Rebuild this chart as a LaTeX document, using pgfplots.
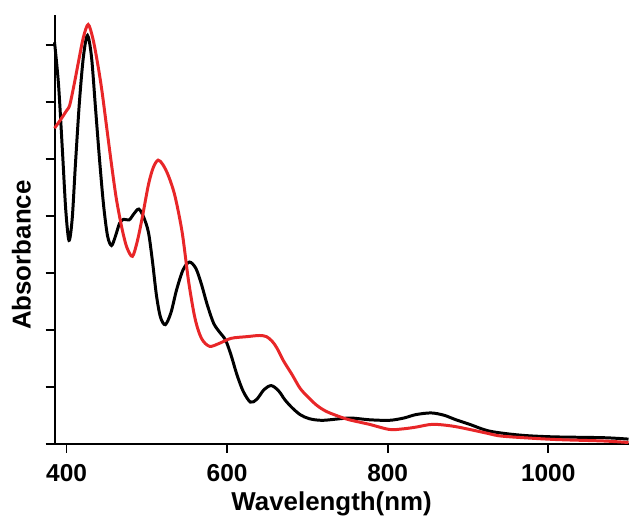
\documentclass[border=0pt]{standalone}
\usepackage{pgfplots}
\pgfplotsset{compat=1.18}
\usepackage{fontspec}
\setmainfont{Liberation Sans}
\definecolor{specred}{RGB}{232,38,40}

\begin{document}
\begin{tikzpicture}[font=\bfseries]
  \begin{axis}[
      scale only axis,
      width=288.5pt, height=215.5pt,
      xmin=385, xmax=1100,
      ymin=0, ymax=7.53,
      axis x line=bottom, axis y line=left,
      axis line style={line width=1pt, -},
      x axis line style={shorten <=-4.5pt},
      xtick={400,600,800,1000},
      ytick={1,2,3,4,5,6,7},
      yticklabels={},
      tick align=outside,
      major tick length=4.5pt,
      tick style={line width=0.9pt, black},
      xticklabel style={font=\fontsize{12.3}{14}\selectfont\bfseries, yshift=-2.5pt},
      /pgf/number format/assume math mode=true,
      /pgf/number format/1000 sep={},
      xlabel={Wavelength(nm)},
      ylabel={Absorbance},
      label style={font=\fontsize{13}{15}\selectfont\bfseries},
      xlabel style={inner sep=0pt, yshift=-1.5pt, xshift=-5pt},
      ylabel style={inner sep=6pt, yshift=-5.7pt, xshift=-13pt},
      clip=false,
    ]
    % black spectrum
    \addplot[black, line width=1.5pt, smooth] coordinates {
      (385,7.05) (390,6.3) (395,5.1) (399,4.1) (403,3.57) (407,3.95)
      (411,4.9) (416,6.0) (421,6.8) (426,7.17) (431,6.8) (436,5.9)
      (441,5.0) (446,4.2) (451,3.65) (456,3.48) (461,3.65) (466,3.87)
      (471,3.94) (478,3.93) (484,4.04) (490,4.12) (496,3.98) (502,3.71)
      (507,3.2) (512,2.6) (517,2.22) (523,2.09) (530,2.3) (537,2.7)
      (545,3.05) (553,3.19) (561,3.08) (568,2.8) (575,2.45) (583,2.12)
      (590,1.97) (598,1.82) (605,1.55) (612,1.22) (620,0.92) (629,0.73)
      (637,0.78) (646,0.95) (655,1.02) (664,0.93) (672,0.77) (681,0.63)
      (691,0.51) (702,0.44) (719,0.41) (752,0.45) (777,0.42) (802,0.41)
      (820,0.45) (835,0.51) (854,0.54) (870,0.5) (885,0.42) (902,0.34)
      (927,0.22) (965,0.15) (1006,0.12) (1069,0.105) (1100,0.08)
    };
    % red spectrum
    \addplot[specred, line width=1.5pt, smooth] coordinates {
      (385,5.54) (393,5.7) (400,5.85) (404,5.95) (410,6.35) (415,6.72)
      (421,7.14) (427,7.36) (433,7.1) (439,6.65) (444,6.2) (450,5.55)
      (456,4.9) (462,4.3) (469,3.78) (475,3.45) (482,3.29) (488,3.55)
      (494,3.95) (502,4.55) (508,4.85) (514,4.98) (520,4.9) (527,4.7)
      (535,4.35) (544,3.71) (552,2.85) (560,2.2) (568,1.85) (578,1.71)
      (590,1.76) (605,1.85) (625,1.88) (640,1.90) (649,1.88) (656,1.80)
      (662,1.68) (670,1.46) (681,1.21) (691,0.97) (702,0.80) (712,0.67)
      (723,0.57) (737,0.49) (752,0.42) (777,0.34) (802,0.25) (819,0.26)
      (835,0.29) (856,0.34) (880,0.31) (902,0.25) (925,0.18) (944,0.13)
      (1006,0.075) (1069,0.047) (1100,0.02)
    };
    \path (rel axis cs:0,1) ++(0pt,7.5pt);
  \end{axis}
\end{tikzpicture}
\end{document}
